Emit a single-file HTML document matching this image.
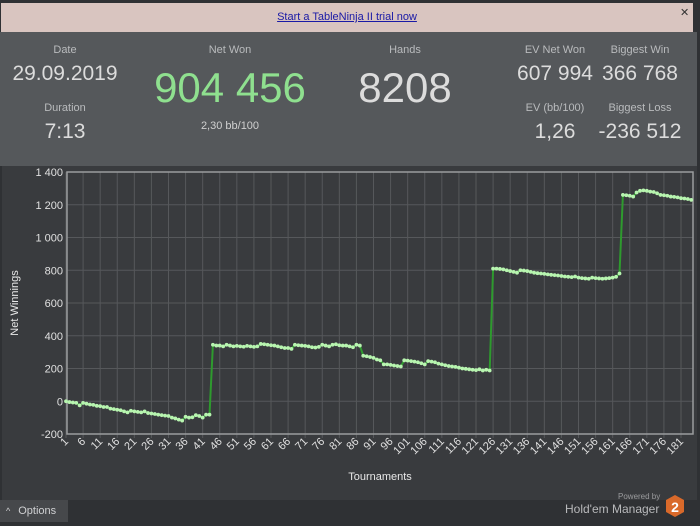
<!DOCTYPE html>
<html><head><meta charset="utf-8">
<style>
html,body{margin:0;padding:0;width:700px;height:526px;overflow:hidden;background:#2f3134;font-family:"Liberation Sans","DejaVu Sans",sans-serif;}
#root{position:absolute;left:0;top:0;width:700px;height:526px;}
#banner{position:absolute;left:1px;top:3px;width:692px;height:29px;background:#d9c5c0;text-align:center;}
#banner a{font-size:11px;color:#1a1aa6;text-decoration:underline;line-height:29px;}
#close{position:absolute;left:680px;top:6px;color:#333;font-size:11px;font-weight:bold;}
#header{position:absolute;left:0;top:32px;width:697px;height:134px;background:#55585b;}
.lbl{position:absolute;color:#b9bbbd;font-size:11px;text-align:center;}
.val{position:absolute;color:#dcdcdc;text-align:center;}
#chartbg{position:absolute;left:2px;top:166px;width:695px;height:334px;background:#393b3e;}
#options{position:absolute;left:0;top:500px;width:68px;height:22px;background:#46484b;color:#cfd0d2;font-size:11px;line-height:22px;}
svg text{font-family:"Liberation Sans","DejaVu Sans",sans-serif;}
</style></head><body>
<div id="root">
<div id="banner"><a>Start a TableNinja II trial now</a></div>
<div id="close">✕</div>
<div id="header">
 <div class="lbl" style="left:20px;top:12px;width:90px">Date</div>
 <div class="val" style="left:0;top:30px;width:130px;font-size:21px">29.09.2019</div>
 <div class="lbl" style="left:20px;top:70px;width:90px">Duration</div>
 <div class="val" style="left:20px;top:88px;width:90px;font-size:21px">7:13</div>
 <div class="lbl" style="left:180px;top:12px;width:100px">Net Won</div>
 <div class="val" style="left:140px;top:32px;width:180px;font-size:42px;color:#8fe08f">904 456</div>
 <div class="lbl" style="left:180px;top:88px;width:100px;color:#d0d0d0">2,30 bb/100</div>
 <div class="lbl" style="left:355px;top:12px;width:100px">Hands</div>
 <div class="val" style="left:330px;top:32px;width:150px;font-size:42px">8208</div>
 <div class="lbl" style="left:505px;top:12px;width:100px">EV Net Won</div>
 <div class="val" style="left:505px;top:30px;width:100px;font-size:21px">607 994</div>
 <div class="lbl" style="left:590px;top:12px;width:100px">Biggest Win</div>
 <div class="val" style="left:590px;top:30px;width:100px;font-size:21px">366 768</div>
 <div class="lbl" style="left:505px;top:70px;width:100px">EV (bb/100)</div>
 <div class="val" style="left:505px;top:88px;width:100px;font-size:21px">1,26</div>
 <div class="lbl" style="left:590px;top:70px;width:100px">Biggest Loss</div>
 <div class="val" style="left:590px;top:88px;width:100px;font-size:21px">-236 512</div>
</div>
<div id="chartbg"></div>
<svg id="chart" width="700" height="526" style="position:absolute;left:0;top:0"></svg>
<div id="options"><span style="font-size:9px;margin:0 8px 0 6px">^</span>Options</div>
<div style="position:absolute;left:618px;top:492px;color:#9a9b9d;font-size:8px">Powered by</div>
<div style="position:absolute;left:565px;top:502px;color:#b8b9bb;font-size:12px">Hold'em Manager</div>
<svg style="position:absolute;left:665px;top:494px" width="20" height="24"><polygon points="10,1 19,6 19,18 10,23 1,18 1,6" fill="#d9692a"/><text x="10" y="18" text-anchor="middle" fill="#fff" font-size="14" font-weight="bold">2</text></svg>
</div>
<script>
const yTicks=[-200,0,200,400,600,800,1000,1200,1400];
const yTickLabels=["-200","0","200","400","600","800","1 000","1 200","1 400"];
const winnings=[
0,-5,-8,-10,-25,-10,-15,-20,-22,-28,
-30,-35,-35,-45,-48,-52,-55,-62,-68,-58,
-62,-65,-68,-62,-72,-75,-78,-82,-85,-88,
-90,-100,-105,-112,-118,-95,-100,-98,-85,-90,
-100,-82,-82,
345,340,340,335,345,340,335,338,335,333,
338,335,332,335,350,348,345,342,340,335,
330,325,325,320,345,342,340,338,335,330,
328,332,345,340,335,345,348,342,340,340,
335,330,345,340,278,275,270,265,255,250,
225,225,222,218,215,212,250,248,245,242,
238,232,225,245,242,238,230,225,220,215,
212,210,205,200,198,195,192,190,195,188,192,188,
810,810,808,805,800,795,790,785,800,798,
795,790,785,782,780,778,775,772,770,768,
765,762,760,758,762,755,752,750,748,755,
752,750,748,750,752,755,760,780,
1260,1258,1255,1250,1275,1285,1288,1285,1280,1278,
1270,1260,1258,1255,1250,1248,1245,1240,1238,1235,1230];
const xTickCats=[];for(let c=1;c<=181;c+=5)xTickCats.push(c);

const NS="http://www.w3.org/2000/svg";
const svg=document.getElementById('chart');
const L=67,R=693,T=172,B=434;
const X=c=>L-1+(c-1)*(681-66)/180;
const Y=v=>B-(v+200)/1600*(B-T);
function mk(tag,attrs,parent){const e=document.createElementNS(NS,tag);for(const k in attrs)e.setAttribute(k,attrs[k]);(parent||svg).appendChild(e);return e;}
yTicks.forEach((v,i)=>{
 const g=mk('line',{x1:L,x2:R,y1:Y(v),y2:Y(v),stroke:'#56585b','stroke-width':1});
 
 
 const t=mk('text',{x:L-4,y:Y(v)+4,'text-anchor':'end',fill:'#e0e0e0','font-size':11});
 t.textContent=yTickLabels[i];
 
 
});
xTickCats.forEach(c=>{
 const g=mk('line',{x1:X(c),x2:X(c),y1:T,y2:B+4,stroke:'#56585b','stroke-width':1});
 
 
 const t=mk('text',{x:X(c)+3,y:B+8,'text-anchor':'end',fill:'#e0e0e0','font-size':11,transform:`rotate(-45 ${X(c)+3} ${B+8})`});
 t.textContent=String(c);
 
 
});
const frame=mk('rect',{x:L,y:T,width:R-L,height:B-T,fill:'none',stroke:'#9a9c9e','stroke-width':1.5});


const pts=winnings.map((v,i)=>X(i+1).toFixed(1)+','+Y(v).toFixed(1)).join(' ');
const line=mk('polyline',{points:pts,fill:'none',stroke:'#2e9a2e','stroke-width':2});


winnings.forEach((v,i)=>{
 const p=mk('circle',{cx:X(i+1),cy:Y(v),r:1.9,fill:'#b8f5b0'});
 
 
});
const yt=mk('text',{x:18,y:303,'text-anchor':'middle',fill:'#e8e8e8','font-size':11,transform:'rotate(-90 18 303)'});
yt.textContent='Net Winnings';


const xt=mk('text',{x:380,y:480,'text-anchor':'middle',fill:'#e8e8e8','font-size':11});
xt.textContent='Tournaments';


</script>
</body></html>
